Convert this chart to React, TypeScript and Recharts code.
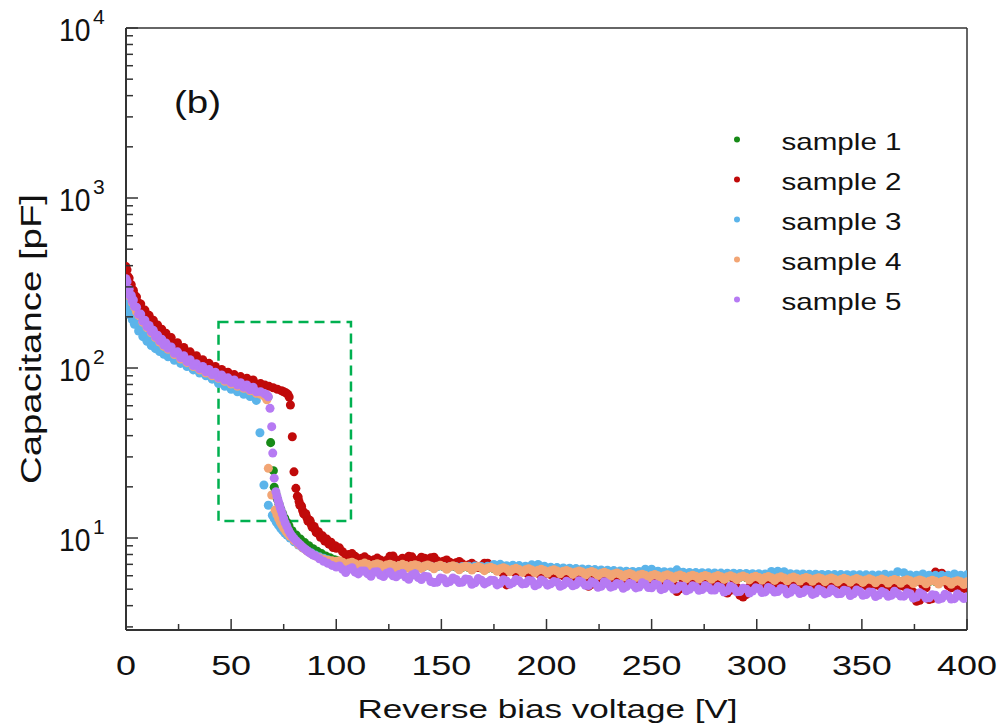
import React from 'react';
import {
  ScatterChart,
  Scatter,
  XAxis,
  YAxis,
  ZAxis,
  ReferenceArea,
  ReferenceLine,
  Legend,
  Customized,
} from 'recharts';

const FONT = "'Liberation Sans', Arial, Helvetica, sans-serif";
const AXIS = '#333';
const INK = '#111';

const COLORS = {
  s1: '#178a17',
  s2: '#c00a0a',
  s3: '#5bb4ea',
  s4: '#f2a574',
  s5: '#b67af3',
};

const X_TICKS = [0, 25, 50, 75, 100, 125, 150, 175, 200, 225, 250, 275, 300, 325, 350, 375, 400];
const Y_TICKS = [
  3, 4, 5, 6, 7, 8, 9,
  10, 20, 30, 40, 50, 60, 70, 80, 90,
  100, 200, 300, 400, 500, 600, 700, 800, 900,
  1000, 2000, 3000, 4000, 5000, 6000, 7000, 8000, 9000,
  10000,
];

// reverse bias voltage [V], shared grids
const PRE_V = [0, 1, 2, 3, 4, 5, 6, 8, 10, 12, 14, 16, 18, 20, 23, 26, 29, 32, 35, 38, 41, 44, 47, 50, 53, 56, 59, 62];
const PRE_V_DENSE = [
  0, 0.5, 1, 1.5, 2, 2.5, 3, 3.5, 4,
  5, 6, 7, 8, 9, 10, 11, 12, 13, 14, 15, 16, 17, 18, 19, 20,
  21.5, 23, 24.5, 26, 27.5, 29, 30.5, 32, 33.5, 35, 36.5, 38, 39.5, 41, 42.5, 44, 45.5, 47, 48.5, 50, 51.5, 53, 54.5, 56, 57.5, 59, 60.5, 62,
];
const FLAT_V = [
  100, 103, 106, 109, 112, 115, 118, 121, 124, 127,
  130, 133, 136, 139, 142, 145, 148, 151, 154, 157,
  160, 163, 166, 169, 172, 175, 178, 181, 184, 187,
  190, 193, 196, 199, 202, 205, 208, 211, 214, 217,
  220, 223, 226, 229, 232, 235, 238, 241, 244, 247,
  250, 253, 256, 259, 262, 265, 268, 271, 274, 277,
  280, 283, 286, 289, 292, 295, 298, 301, 304, 307,
  310, 313, 316, 319, 322, 325, 328, 331, 334, 337,
  340, 343, 346, 349, 352, 355, 358, 361, 364, 367,
  370, 373, 376, 379, 382, 385, 388, 391, 394, 397,
  400,
];
const FLAT_V2 = [
  101.5, 104.5, 107.5, 110.5, 113.5, 116.5, 119.5, 122.5, 125.5, 128.5,
  131.5, 134.5, 137.5, 140.5, 143.5, 146.5, 149.5, 152.5, 155.5, 158.5,
  161.5, 164.5, 167.5, 170.5, 173.5, 176.5, 179.5, 182.5, 185.5, 188.5,
  191.5, 194.5, 197.5, 200.5, 203.5, 206.5, 209.5, 212.5, 215.5, 218.5,
  221.5, 224.5, 227.5, 230.5, 233.5, 236.5, 239.5, 242.5, 245.5, 248.5,
  251.5, 254.5, 257.5, 260.5, 263.5, 266.5, 269.5, 272.5, 275.5, 278.5,
  281.5, 284.5, 287.5, 290.5, 293.5, 296.5, 299.5, 302.5, 305.5, 308.5,
  311.5, 314.5, 317.5, 320.5, 323.5, 326.5, 329.5, 332.5, 335.5, 338.5,
  341.5, 344.5, 347.5, 350.5, 353.5, 356.5, 359.5, 362.5, 365.5, 368.5,
  371.5, 374.5, 377.5, 380.5, 383.5, 386.5, 389.5, 392.5, 395.5, 398.5,
];

// capacitance [pF]
// sample 1
const S1_PRE = [328, 292, 268, 248, 232, 219, 208, 190, 176, 165, 154, 145, 137, 131, 122.5, 115.5, 110, 104, 99.5, 95.5, 92, 88.5, 85, 82.5, 80, 77.5, 75, 72.5];
const S1_MID_V = [64, 66, 67.5, 68.8, 70.1, 70.5, 71.3, 72, 72.8, 73.6, 74.5, 75.5, 76.5, 77.5, 79, 81, 83, 85, 87, 89, 91, 93, 95, 97, 99];
const S1_MID_C = [71, 69, 67.5, 36.4, 24.9, 19.9, 18.2, 16.9, 15.8, 14.8, 13.9, 13.1, 12.4, 11.8, 11.05, 10.4, 9.85, 9.4, 9.0, 8.65, 8.35, 8.1, 7.85, 7.65, 7.45];
const S1_FLAT = [
  7.4, 7.26, 7.15, 7.07, 7.01, 6.98, 6.95, 6.93, 6.91, 6.89,
  6.88, 6.87, 6.86, 6.84, 6.83, 6.81, 6.8, 6.78, 6.76, 6.74,
  6.72, 6.7, 6.68, 6.66, 6.63, 6.6, 6.58, 6.56, 6.53, 6.5,
  6.48, 6.46, 6.44, 6.42, 6.4, 6.38, 6.35, 6.32, 6.3, 6.28,
  6.25, 6.22, 6.19, 6.16, 6.13, 6.1, 6.08, 6.05, 6.03, 6.01,
  6.0, 5.98, 5.97, 5.96, 5.95, 5.94, 5.93, 5.93, 5.92, 5.91,
  5.9, 5.9, 5.89, 5.88, 5.87, 5.86, 5.85, 5.84, 5.83, 5.82,
  5.81, 5.8, 5.79, 5.78, 5.76, 5.75, 5.74, 5.73, 5.72, 5.7,
  5.69, 5.68, 5.67, 5.66, 5.65, 5.64, 5.63, 5.62, 5.61, 5.6,
  5.59, 5.58, 5.57, 5.56, 5.55, 5.54, 5.53, 5.52, 5.51, 5.5,
  5.5,
];

// sample 2
const S2_PRE = [
  395, 378, 345, 338, 312, 309, 288, 287, 270,
  262, 241, 238, 220, 219, 203, 204, 189, 191, 177, 179, 166, 169, 157, 160, 149,
  151, 138, 141, 129.5, 132, 121.5, 124.5, 115, 118, 109, 112, 104.5, 106.5, 99, 102, 95, 98, 91.5, 94.5, 89, 91.5, 86.5, 89, 84, 87, 82, 85, 80.5,
];
const S2_MID_V = [
  64, 66, 68, 70, 72, 74, 75, 76, 77, 77.6, 78.2, 79.1, 79.9, 80.8, 81.5, 82.3, 83, 84, 85, 86, 87, 88, 89, 90, 91, 92, 93, 94, 95, 96, 97, 98, 99,
  81.9, 82.7, 83.5, 84.5, 85.5, 86.5, 87.5, 88.5, 89.5, 90.5, 91.5, 92.5, 93.5, 94.5, 95.5, 96.5, 97.5, 98.5, 99.5,
];
const S2_MID_C = [
  81, 79.5, 78, 76.5, 75, 73.5, 72.5, 71.5, 70, 67.5, 60.6, 39.4, 24.5, 19.6, 17.6, 16.4, 15.6, 14.5, 13.8, 13.2, 12.6, 12.1, 11.6, 11.2, 10.85, 10.5, 10.2, 9.95, 9.7, 9.5, 9.3, 9.1, 8.9,
  17.4, 15.6, 15.4, 13.9, 13.9, 12.6, 12.7, 11.6, 11.7, 10.75, 10.9, 10.1, 10.3, 9.6, 9.85, 9.2, 9.45, 8.8, 9.0,
];
const S2_FLAT = [
  8.7, 8.3, 8.0, 7.8, 7.6, 7.5, 7.45, 7.42, 7.4, 7.85,
  7.4, 7.45, 7.75, 7.4, 7.6, 7.65, 7.35, 7.3, 7.2, 7.15,
  7.05, 6.95, 6.9, 6.85, 7.1, 6.75, 6.6, 5.3, 6.4, 6.35,
  6.3, 6.25, 6.2, 6.15, 6.1, 6.05, 6.0, 5.95, 5.9, 5.85,
  5.2, 5.8, 5.78, 5.75, 5.72, 5.7, 5.68, 5.65, 5.62, 5.6,
  5.6, 5.55, 5.6, 5.55, 4.85, 5.5, 5.5, 5.48, 5.45, 5.5,
  5.45, 5.5, 4.75, 5.4, 4.6, 4.65, 5.4, 5.35, 5.35, 5.4,
  5.35, 5.4, 5.35, 5.3, 5.35, 5.3, 5.3, 5.25, 5.3, 5.25,
  5.3, 5.25, 5.2, 5.3, 5.25, 5.2, 5.25, 5.2, 5.15, 5.2,
  5.2, 5.0, 4.25, 5.3, 4.35, 6.3, 6.2, 5.25, 5.2, 5.2,
  5.15,
];
const S2_FLAT2 = [
  8.75, 7.95, 8.1, 7.5, 7.75, 7.3, 7.62, 7.25, 7.8, 7.42,
  7.6, 7.8, 7.35, 7.7, 7.45, 7.7, 7.15, 7.42, 7.0, 7.28,
  6.82, 7.1, 6.7, 7.1, 6.72, 6.85, 6.15, 6.52, 6.2, 6.48,
  6.1, 6.38, 6.0, 6.28, 5.92, 6.18, 5.82, 6.08, 5.72, 5.75,
  5.35, 5.95, 5.6, 5.88, 5.55, 5.85, 5.5, 5.78, 5.45, 5.75,
  5.42, 5.72, 5.42, 5.35, 5.03, 5.65, 5.34, 5.6, 5.32, 5.62,
  5.32, 5.26, 4.93, 5.14, 4.5, 5.15, 5.22, 5.5, 5.22, 5.52,
  5.2, 5.5, 5.2, 5.45, 5.18, 5.45, 5.15, 5.4, 5.15, 5.4,
  5.12, 5.38, 5.1, 5.4, 5.08, 5.35, 5.1, 5.35, 5.02, 5.32,
  5.05, 4.8, 4.3, 5.1, 4.4, 6.15, 5.95, 5.1, 5.35, 5.05,
];

// sample 3
const S3_PRE = [
  245, 241, 219, 222, 205, 208, 192, 196, 181,
  181, 165, 166.5, 153, 155, 143.5, 146.5, 135.5, 139, 130, 133.5, 125, 128.5, 120.5, 124.5, 116.5,
  119.5, 111, 114, 106.5, 109, 102, 104.5, 97.5, 100.5, 93.5, 96.5, 90, 92, 86, 87.5, 81, 83.5, 78, 80.5, 75, 77.5, 72.5, 75, 70, 72.5, 68, 68.5, 64.5,
];
const S3_MID_V = [63.7, 65.6, 67.7, 69.6, 70.5, 71.5, 72.5, 73.5, 74.5, 75.5, 76.5, 78, 80, 82, 84, 86, 88, 90, 92, 94, 96, 98];
const S3_MID_C = [41.6, 20.5, 15.6, 13.6, 13.0, 12.4, 11.9, 11.45, 11.05, 10.7, 10.4, 10.0, 9.5, 9.1, 8.75, 8.45, 8.2, 7.95, 7.75, 7.6, 7.45, 7.3];
const S3_FLAT = [
  7.15, 7.08, 7.04, 7.0, 6.98, 6.96, 6.94, 6.92, 6.9, 6.88,
  6.88, 6.86, 6.85, 6.84, 6.83, 6.82, 6.8, 6.8, 6.78, 6.77,
  6.8, 6.82, 6.85, 6.8, 6.83, 6.98, 7.0, 6.87, 6.92, 6.88,
  6.82, 6.95, 6.98, 6.82, 6.74, 6.7, 6.67, 6.64, 6.61, 6.58,
  6.55, 6.52, 6.49, 6.46, 6.43, 6.4, 6.38, 6.36, 6.35, 6.56,
  6.55, 6.37, 6.33, 6.31, 6.5, 6.29, 6.27, 6.26, 6.25, 6.24,
  6.23, 6.22, 6.21, 6.2, 6.19, 6.18, 6.17, 6.16, 6.15, 6.35,
  6.37, 6.33, 6.17, 6.15, 6.14, 6.13, 6.12, 6.11, 6.1, 6.09,
  6.09, 6.08, 6.08, 6.07, 6.07, 6.06, 6.05, 6.13, 6.05, 6.33,
  6.25, 6.05, 6.04, 6.15, 6.04, 6.03, 6.03, 6.03, 6.15, 6.04,
  6.07,
];

// sample 4
const S4_PRE = [322, 286, 262, 243, 228, 214, 204, 186, 173, 161, 151, 142, 134, 129, 120, 113, 107.5, 102, 97.5, 93.5, 90, 87, 83.5, 80.5, 78, 76, 73.5, 71];
const S4_MID_V = [64, 66, 67, 67.7, 69.3, 70.9, 71.8, 72.6, 73.4, 74.2, 75, 76, 77, 78, 80, 82, 84, 86, 88, 90, 92, 94, 96, 98];
const S4_MID_C = [70, 68, 65, 25.7, 17.9, 14.6, 13.7, 13.0, 12.4, 11.9, 11.45, 11.0, 10.6, 10.25, 9.65, 9.15, 8.75, 8.4, 8.1, 7.85, 7.65, 7.5, 7.4, 7.35];
const S4_FLAT = [
  7.3, 7.2, 7.12, 7.06, 7.02, 7.0, 6.97, 6.95, 6.93, 6.91,
  6.9, 6.89, 6.88, 6.86, 6.85, 6.83, 6.82, 6.8, 6.78, 6.76,
  6.74, 6.72, 6.7, 6.68, 6.65, 6.62, 6.6, 6.58, 6.55, 6.52,
  6.5, 6.48, 6.46, 6.44, 6.42, 6.4, 6.37, 6.34, 6.32, 6.3,
  6.27, 6.24, 6.21, 6.18, 6.15, 6.12, 6.1, 6.07, 6.05, 6.03,
  6.02, 6.0, 5.99, 5.98, 5.97, 5.96, 5.95, 5.95, 5.94, 5.93,
  5.92, 5.92, 5.91, 5.9, 5.89, 5.88, 5.87, 5.86, 5.85, 5.84,
  5.83, 5.82, 5.81, 5.8, 5.78, 5.77, 5.76, 5.75, 5.74, 5.72,
  5.71, 5.7, 5.69, 5.68, 5.67, 5.66, 5.65, 5.64, 5.63, 5.62,
  5.61, 5.6, 5.59, 5.58, 5.57, 5.56, 5.55, 5.54, 5.53, 5.52,
  5.52,
];
const S4_FLAT2 = [
  7.36, 6.91, 7.2, 6.79, 7.12, 6.74, 7.06, 6.7, 7.02, 6.66,
  7.0, 6.64, 6.97, 6.61, 6.94, 6.59, 6.91, 6.55, 6.87, 6.51,
  6.83, 6.48, 6.79, 6.43, 6.73, 6.38, 6.69, 6.34, 6.63, 6.28,
  6.59, 6.24, 6.55, 6.2, 6.51, 6.16, 6.45, 6.11, 6.4, 6.06,
  6.35, 6.01, 6.29, 5.95, 6.23, 5.9, 6.18, 5.85, 6.13, 5.81,
  6.1, 5.79, 6.07, 5.77, 6.05, 5.75, 6.04, 5.74, 6.02, 5.72,
  6.01, 5.71, 5.99, 5.69, 5.97, 5.67, 5.95, 5.65, 5.93, 5.63,
  5.91, 5.61, 5.89, 5.59, 5.86, 5.56, 5.84, 5.54, 5.82, 5.52,
  5.79, 5.5, 5.77, 5.48, 5.75, 5.46, 5.73, 5.44, 5.71, 5.42,
  5.69, 5.4, 5.67, 5.38, 5.65, 5.36, 5.63, 5.34, 5.61, 5.33,
];

// sample 5
const S5_PRE = [
  335, 322, 291, 291, 266, 268, 247, 251, 231,
  228, 207, 207.5, 189, 191, 175.5, 178, 164, 166.5, 153, 156, 144.5, 147.5, 136.5, 140.5, 130.5,
  133, 122, 124.5, 115, 118, 109, 112, 103.5, 106, 99, 102, 95, 98, 91.5, 94.5, 88, 91, 85, 87.5, 82, 85, 79.5, 82, 77, 79.5, 74.5, 77, 72.5,
];
const S5_MID_V = [64, 66, 67, 67.7, 68.5, 69.3, 69.8, 70.5, 71.3, 71.8, 72.3, 72.8, 73.3, 73.8, 74.4, 75, 75.7, 76.5, 77.3, 78.2, 79.1, 80, 81, 82, 83, 84, 85, 86, 87, 88, 89, 90, 92, 94, 96, 98];
const S5_MID_C = [72.5, 70.5, 69.5, 67.8, 57.9, 45.2, 31.6, 22.5, 18.7, 17.6, 16.7, 15.9, 15.2, 14.5, 13.8, 13.0, 12.3, 11.7, 11.1, 10.6, 10.2, 9.9, 9.6, 9.35, 9.1, 8.85, 8.65, 8.45, 8.25, 8.1, 7.95, 7.85, 7.55, 7.3, 7.1, 6.9];
const S5_FLAT = [
  6.75, 6.55, 6.55, 6.3, 6.4, 6.15, 6.3, 6.05, 6.2, 6.0,
  6.1, 5.9, 6.05, 5.85, 5.95, 5.55, 5.5, 5.75, 5.55, 5.7,
  5.5, 5.7, 5.45, 5.65, 5.5, 5.62, 5.42, 5.58, 5.45, 5.6,
  5.4, 5.58, 5.35, 5.52, 5.38, 5.5, 5.3, 5.45, 5.32, 5.48,
  5.25, 5.42, 5.2, 5.38, 5.22, 5.35, 5.18, 5.32, 5.15, 5.35,
  5.1, 5.28, 5.05, 5.22, 5.02, 5.2, 5.0, 5.15, 4.98, 5.12,
  4.95, 5.1, 4.9, 5.08, 4.85, 5.02, 4.88, 5.05, 4.82, 5.0,
  4.85, 5.0, 4.8, 4.95, 4.78, 4.92, 4.75, 4.9, 4.76, 4.88,
  4.72, 4.88, 4.7, 4.85, 4.65, 4.8, 4.62, 4.75, 4.6, 4.72,
  4.55, 4.7, 4.5, 4.65, 4.45, 4.6, 4.42, 4.58, 4.4, 4.55,
  4.5,
];
const S5_FLAT2 = [
  6.85, 6.26, 6.68, 6.15, 6.4, 5.96, 6.34, 5.93, 6.31, 5.92,
  6.18, 5.72, 6.16, 5.7, 5.92, 5.47, 5.81, 5.45, 5.82, 5.47,
  5.74, 5.34, 5.77, 5.37, 5.64, 5.3, 5.68, 5.34, 5.71, 5.37,
  5.63, 5.24, 5.67, 5.28, 5.54, 5.2, 5.57, 5.24, 5.61, 5.27,
  5.52, 5.13, 5.53, 5.14, 5.4, 5.06, 5.42, 5.09, 5.45, 5.12,
  5.36, 4.97, 5.37, 4.99, 5.22, 4.9, 5.24, 4.93, 5.26, 4.95,
  5.18, 4.81, 5.2, 4.83, 5.06, 4.75, 5.09, 4.78, 5.12, 4.81,
  5.05, 4.69, 5.08, 4.72, 4.96, 4.66, 4.99, 4.69, 5.01, 4.7,
  4.93, 4.59, 4.95, 4.61, 4.82, 4.53, 4.84, 4.54, 4.86, 4.56,
  4.77, 4.43, 4.77, 4.43, 4.64, 4.36, 4.67, 4.38, 4.69, 4.41,
];

// highlighted region (dashed box)
const BOX = { x1: 44, x2: 107, y1: 12.6, y2: 186.5 };

const toPoints = (vs: number[], cs: number[]) => vs.map((v, i) => ({ v, c: cs[i] }));

const SERIES = [
  {
    name: 'sample 1',
    color: COLORS.s1,
    data: [...toPoints(PRE_V, S1_PRE), ...toPoints(S1_MID_V, S1_MID_C), ...toPoints(FLAT_V, S1_FLAT)],
  },
  {
    name: 'sample 2',
    color: COLORS.s2,
    data: [
      ...toPoints(PRE_V_DENSE, S2_PRE),
      ...toPoints(S2_MID_V, S2_MID_C),
      ...toPoints(FLAT_V, S2_FLAT),
      ...toPoints(FLAT_V2, S2_FLAT2),
    ],
  },
  {
    name: 'sample 3',
    color: COLORS.s3,
    data: [...toPoints(PRE_V_DENSE, S3_PRE), ...toPoints(S3_MID_V, S3_MID_C), ...toPoints(FLAT_V, S3_FLAT)],
  },
  {
    name: 'sample 4',
    color: COLORS.s4,
    data: [
      ...toPoints(PRE_V, S4_PRE),
      ...toPoints(S4_MID_V, S4_MID_C),
      ...toPoints(FLAT_V, S4_FLAT),
      ...toPoints(FLAT_V2, S4_FLAT2),
    ],
  },
  {
    name: 'sample 5',
    color: COLORS.s5,
    data: [
      ...toPoints(PRE_V_DENSE, S5_PRE),
      ...toPoints(S5_MID_V, S5_MID_C),
      ...toPoints(FLAT_V, S5_FLAT),
      ...toPoints(FLAT_V2, S5_FLAT2),
    ],
  },
];

const XTick = ({ x, y, payload }: any) => {
  const v = payload.value;
  const major = v % 50 === 0;
  const txt = String(v);
  return (
    <g>
      <line x1={x} x2={x} y1={y} y2={y - (major ? 11 : 6)} stroke={AXIS} strokeWidth={1.5} />
      {major && (
        <text
          x={x}
          y={y + 45}
          textAnchor="middle"
          fontSize={28}
          fontFamily={FONT}
          fill={INK}
          textLength={20 * txt.length}
          lengthAdjust="spacingAndGlyphs"
        >
          {txt}
        </text>
      )}
    </g>
  );
};

const YTick = ({ x, y, payload }: any) => {
  const v = payload.value;
  const exp = Math.log10(v);
  const major = Math.abs(exp - Math.round(exp)) < 1e-9;
  return (
    <g>
      <line x1={x} x2={x + (major ? 12 : 7)} y1={y} y2={y} stroke={AXIS} strokeWidth={1.5} />
      {major && (
        <g fontFamily={FONT} fill={INK}>
          <text x={x - 67} y={y + 12.5} fontSize={32} textLength={31.5} lengthAdjust="spacingAndGlyphs">10</text>
          <text x={x - 33} y={y - 4.5} fontSize={21}>{Math.round(exp)}</text>
        </g>
      )}
    </g>
  );
};

const XTitle = () => (
  <text
    x={547.5}
    y={718}
    textAnchor="middle"
    fontSize={26}
    fontFamily={FONT}
    fill={INK}
    textLength={380}
    lengthAdjust="spacingAndGlyphs"
  >
    Reverse bias voltage [V]
  </text>
);

const YTitle = () => (
  <text
    transform="translate(41,339) rotate(-90)"
    textAnchor="middle"
    fontSize={29}
    fontFamily={FONT}
    fill={INK}
    textLength={290}
    lengthAdjust="spacingAndGlyphs"
  >
    Capacitance [pF]
  </text>
);

const PanelTag = () => (
  <text x={174} y={113} fontSize={32} fontFamily={FONT} fill={INK} textLength={47} lengthAdjust="spacingAndGlyphs">
    (b)
  </text>
);

const LegendBox = ({ payload }: any) => (
  <svg width={200} height={200} style={{ display: 'block', overflow: 'visible' }}>
    {(payload || []).map((p: any, i: number) => (
      <g key={p.value}>
        <circle cx={17} cy={14.5 + 40 * i} r={3} fill={p.color} />
        <text
          x={61.5}
          y={25 + 40 * i}
          fontSize={24}
          fontFamily={FONT}
          fill={INK}
          textLength={120}
          lengthAdjust="spacingAndGlyphs"
        >
          {p.value}
        </text>
      </g>
    ))}
  </svg>
);

export default function App() {
  return (
    <div style={{ position: 'absolute', left: 0, top: 0, width: 1002, height: 728, background: '#fff' }}>
      <ScatterChart width={1002} height={728} margin={{ top: 28, right: 35, bottom: 0, left: 0 }}>
        <XAxis
          type="number"
          dataKey="v"
          domain={[0, 400]}
          ticks={X_TICKS}
          interval={0}
          allowDataOverflow
          height={98}
          tickSize={0}
          tickMargin={0}
          tickLine={false}
          tick={<XTick />}
          axisLine={{ stroke: AXIS, strokeWidth: 2 }}
          label={<XTitle />}
        />
        <YAxis
          type="number"
          dataKey="c"
          scale="log"
          domain={[2.877, 10000]}
          ticks={Y_TICKS}
          interval={0}
          allowDataOverflow
          width={126}
          tickSize={0}
          tickMargin={0}
          tickLine={false}
          tick={<YTick />}
          axisLine={{ stroke: AXIS, strokeWidth: 2 }}
          label={<YTitle />}
        />
        <ZAxis range={[46, 46]} />
        <ReferenceLine y={10000} stroke={AXIS} strokeWidth={1.5} />
        <ReferenceLine x={400} stroke={AXIS} strokeWidth={1.5} />
        {SERIES.map((s) => (
          <Scatter key={s.name} name={s.name} data={s.data} fill={s.color} isAnimationActive={false} />
        ))}
        <ReferenceArea
          x1={BOX.x1}
          x2={BOX.x2}
          y1={BOX.y1}
          y2={BOX.y2}
          fill="none"
          fillOpacity={0}
          stroke="#00b050"
          strokeWidth={2.5}
          strokeDasharray="10 6"
        />
        <Legend
          layout="vertical"
          align="center"
          verticalAlign="middle"
          wrapperStyle={{ left: 720, top: 125, width: 200, height: 200 }}
          content={<LegendBox />}
        />
        <Customized component={PanelTag} />
      </ScatterChart>
    </div>
  );
}
